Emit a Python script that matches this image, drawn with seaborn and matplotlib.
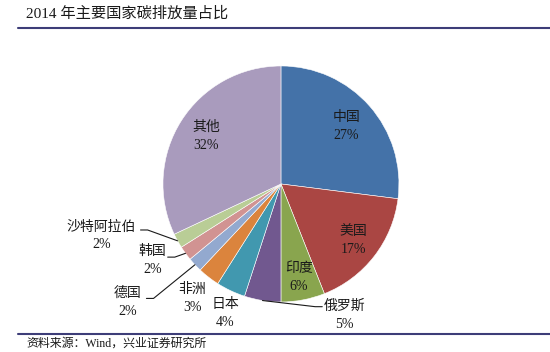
import matplotlib
matplotlib.use('Agg')
import matplotlib.pyplot as plt
from matplotlib.lines import Line2D
import seaborn as sns
import numpy as np

# share of global carbon emissions, 2014 (%)
countries = ['中国', '美国', '印度', '俄罗斯', '日本', '非洲', '德国', '韩国', '沙特阿拉伯', '其他']
shares = [27, 17, 6, 5, 4, 3, 2, 2, 2, 32]
colors = ['#4472A8', '#AA4643', '#89A54E', '#71588F', '#4198AF',
          '#DB843D', '#93A9CF', '#D19392', '#B9CD96', '#A99BBD']

sns.set_theme(style='white')
plt.rcParams['font.family'] = ['Liberation Serif', 'Noto Sans CJK SC']

fig = plt.figure(figsize=(5.5, 3.52), dpi=100)
ax = fig.add_axes([0, 0, 1, 1])
wedges, _ = ax.pie(shares, colors=colors, startangle=90, counterclock=False,
                   radius=1, center=(0, 0),
                   wedgeprops=dict(edgecolor='white', linewidth=0.4))
ax.set_xlim(-2.381, 2.280)
ax.set_ylim(-1.424, 1.559)
ax.set_aspect('equal')
ax.axis('off')

def mid_point(w, r):
    a = np.deg2rad((w.theta1 + w.theta2) / 2)
    return r * np.cos(a), r * np.sin(a)

# inside labels: distance from centre
inside = {'中国': 0.74, '美国': 0.78, '印度': 0.81, '其他': 0.75}
# outside labels: text centre, leader anchor (None = no leader)
outside = {
    '俄罗斯': ((0.54, -1.11), (0.35, -1.04), -1),
    '日本': ((-0.47, -1.10), None, 0),
    '非洲': ((-0.75, -0.97), None, 0),
    '德国': ((-1.30, -1.00), (-1.14, -0.97), 1),
    '韩国': ((-1.09, -0.65), (-0.96, -0.62), 1),
    '沙特阿拉伯': ((-1.52, -0.44), (-1.19, -0.39), 1),
}

for w, name, val in zip(wedges, countries, shares):
    label = f'{name}\n{val}%'
    if name in inside:
        x, y = mid_point(w, inside[name])
    else:
        (x, y), anchor, side = outside[name]
        if anchor is not None:
            ex, ey = mid_point(w, 1.0)
            bx = anchor[0] + 0.06 * side
            ax.plot([anchor[0], bx, ex], [anchor[1], anchor[1], ey],
                    color='#1a1a1a', lw=0.8)
    ax.text(x, y, label, ha='center', va='center', fontsize=10,
            linespacing=1.5, color='#1a1a1a')

fig.text(26 / 550, 1 - 14 / 352, '2014 年主要国家碳排放量占比',
         fontsize=11, va='center', ha='left', color='#1a1a1a')
fig.add_artist(Line2D([18 / 550, 1], [1 - 28 / 352] * 2, color='#3D3D78', lw=1.5))
fig.add_artist(Line2D([18 / 550, 1], [1 - 334 / 352] * 2, color='#3D3D78', lw=1.5))
fig.text(26 / 550, 1 - 344 / 352, '资料来源：Wind，兴业证券研究所',
         fontsize=8.6, va='center', ha='left', color='#1a1a1a')

fig.savefig('out.png', dpi=100)
